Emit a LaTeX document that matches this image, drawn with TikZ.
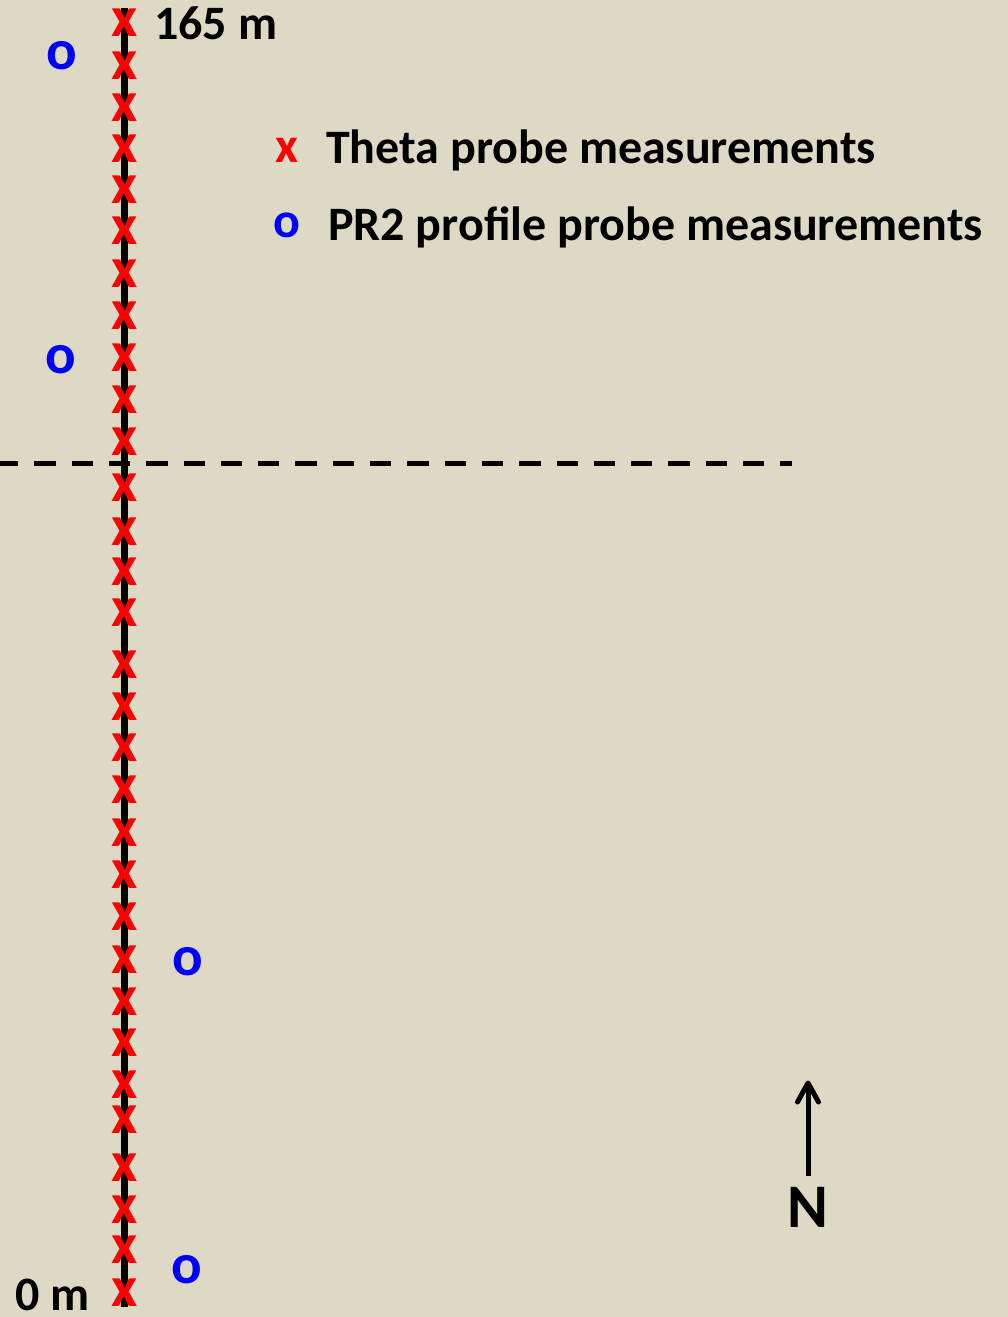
\documentclass[tikz,border=0pt]{standalone}
\usepackage{fontspec}
\setmainfont{Carlito}
\definecolor{bgtan}{HTML}{DDD9C4}
\begin{document}
\begin{tikzpicture}[x=1pt,y=-1pt,
  cross/.style={text=red,font=\fontsize{57}{57}\selectfont\bfseries,inner sep=0pt},
  prmark/.style={text=blue,font=\fontsize{57}{57}\selectfont\bfseries,inner sep=0pt},
  legmark/.style={font=\fontsize{50}{50}\selectfont\bfseries,inner sep=0pt},
  lbl/.style={font=\fontsize{48}{48}\selectfont\bfseries,inner sep=0pt,anchor=base west},
  northline/.style={line width=5pt,line cap=round,line join=round},
  ]
\fill[bgtan] (0,0) rectangle (1008,1317);
\useasboundingbox (0,0) rectangle (1008,1317);
% transect line
\coordinate (top) at (124.5,8);
\coordinate (bot) at (124.5,1307);
\draw[line width=7.5pt] (top) -- (bot);
% dashed divider
\coordinate (dl) at (-3,463.5);
\coordinate (dr) at (792,463.5);
\draw[line width=5pt,dash pattern=on 21.3pt off 16pt] (dl) -- (dr);
% theta probe crosses
\foreach \y [count=\i] in {23,66,108,149,190,231,274,316,358,400,442,488,532,572,613,665,707,748,790,833,875,917,960,1002,1043,1085,1120,1168,1210,1250,1293}
  \node[cross] (c\i) at (124.5,\y) {x};
% PR2 probe points
\node[prmark] (p1) at (61.5,55.5) {o};
\node[prmark] (p2) at (60.5,360) {o};
\node[prmark] (p3) at (188,962) {o};
\node[prmark] (p4) at (187,1270) {o};
% distance labels
\node[lbl] (l165) at (154,39.5) {165 m};
\node[lbl] (l0) at (15,1310) {0 m};
% legend
\node[legmark,text=red] (lx) at (287,150) {x};
\node[legmark,text=blue] (lo) at (287,225) {o};
\node[lbl] (lt) at (326,163) {Theta probe measurements};
\node[lbl] (lp) at (328,240) {PR2 profile probe measurements};
% north arrow
\coordinate (ntail) at (808,1176);
\coordinate (nhead) at (808,1083);
\coordinate (nbl) at (797.5,1102);
\coordinate (nbr) at (818.5,1102);
\draw[line width=5pt] (ntail) -- (nhead);
\draw[northline] (nbl) -- (nhead) -- (nbr);
\node[font=\fontsize{62}{62}\selectfont\bfseries,inner sep=0pt] (N) at (808,1207) {N};
\end{tikzpicture}
\end{document}
